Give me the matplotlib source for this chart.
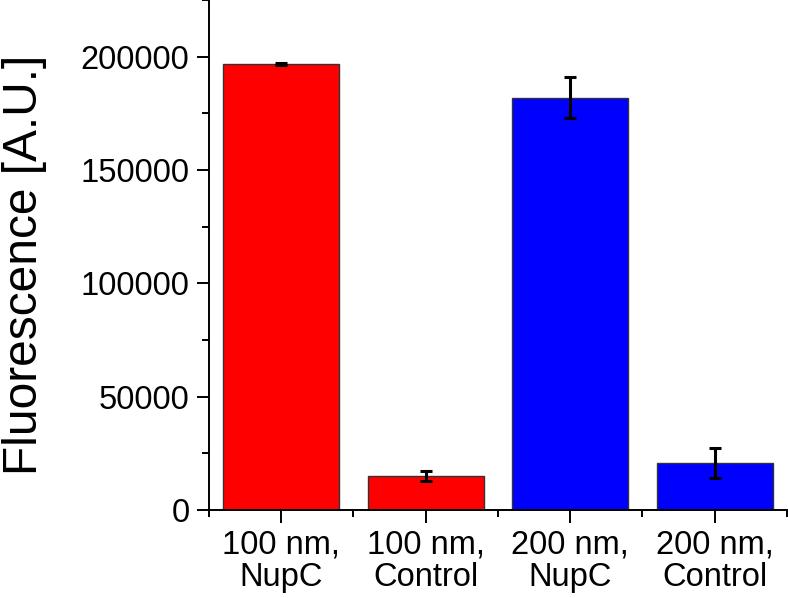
import numpy as np
import matplotlib.pyplot as plt
from matplotlib.ticker import MultipleLocator, FixedLocator

# Dữ liệu
labels = ["100 nm,\nNupC", "100 nm,\nControl", "200 nm,\nNupC", "200 nm,\nControl"]
values = [196900, 15000, 181900, 20600]
errors = [500, 2200, 9000, 6700]
colors = ["#ff0000", "#ff0000", "#0000ff", "#0000ff"]

plt.rcParams["font.family"] = ["Liberation Sans", "DejaVu Sans"]

fig = plt.figure(figsize=(7.88, 5.98), dpi=100)
ax = fig.add_axes([0.2652, 0.1472, 0.7335, 0.8528])

x = np.arange(1, len(values) + 1)
ax.bar(x, values, width=0.8, color=colors, edgecolor="#333333", linewidth=1.0)
ax.errorbar(x, values, yerr=errors, fmt="none", ecolor="black",
            elinewidth=2.2, capsize=4.5, capthick=2.2)

ax.set_xlim(0.5, 4.5)
ax.set_ylim(0, 225000)
ax.set_xticks(x)
ax.set_xticklabels(labels, linespacing=1.05)
ax.xaxis.set_minor_locator(FixedLocator([0.5, 1.5, 2.5, 3.5, 4.5]))
ax.yaxis.set_major_locator(MultipleLocator(50000))
ax.yaxis.set_minor_locator(MultipleLocator(25000))

ax.set_ylabel("Fluorescence [A.U.]", fontsize=34.5, labelpad=24)
ax.yaxis.label.set_y(0.48)
ax.tick_params(axis="both", which="major", labelsize=23.5, length=9, width=1.4,
               direction="out", pad=5)
ax.tick_params(axis="both", which="minor", length=5, width=1.4, direction="out")

for s in ["top", "right"]:
    ax.spines[s].set_visible(False)
for s in ["left", "bottom"]:
    ax.spines[s].set_linewidth(1.4)

fig.savefig("out.png", dpi=100)
